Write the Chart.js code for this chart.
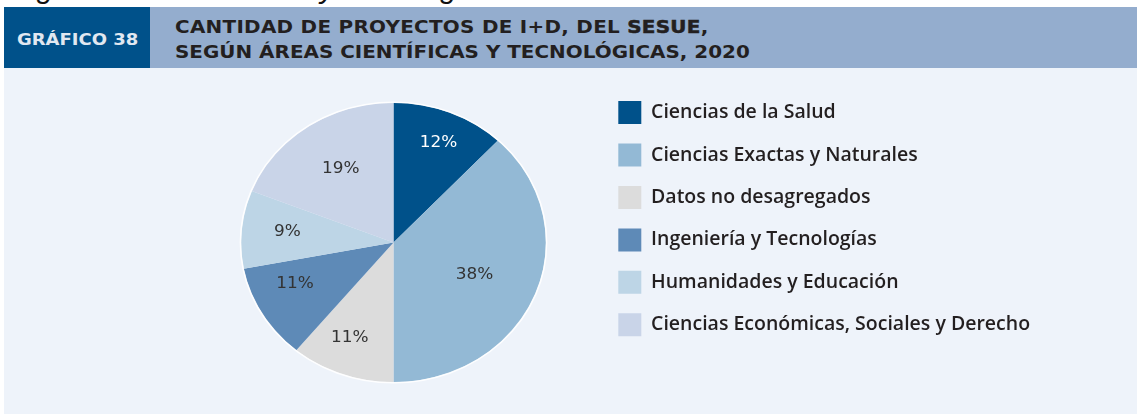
<!DOCTYPE html>
<html lang="es">
<head>
<meta charset="utf-8">
<title>Gráfico 38</title>
<script src="https://cdn.jsdelivr.net/npm/chart.js@4.4.1/dist/chart.umd.min.js"></script>
<style>
  html, body { margin: 0; padding: 0; background: #ffffff; }
  body { width: 1137px; height: 414px; position: relative; overflow: hidden; font-family: 'Open Sans', sans-serif; }
  .cut { position: absolute; left: 0; top: -27px; font: italic 30px/30px 'Liberation Sans', Arial, sans-serif; color: #111; white-space: nowrap; }
  .header { position: absolute; left: 4px; top: 7px; width: 1133px; height: 61px; background: #94adce; }
  .tag { position: absolute; left: 0; top: 0; width: 146px; height: 61px; background: #00518a; }
  .tag span { position: absolute; left: 13px; top: 21.5px; line-height: 22px; color: #e1e8f1; font-family: 'DejaVu Sans', sans-serif; font-weight: 700; font-size: 16.5px; white-space: nowrap; transform: scaleX(1.09); transform-origin: 0 0; }
  .title { position: absolute; left: 171px; top: 6.5px; color: #231f20; font-family: 'DejaVu Sans', sans-serif; font-weight: 700; font-size: 18.3px; line-height: 25px; white-space: nowrap; transform: scaleX(1.09); transform-origin: 0 0; }
  .title .l1 { letter-spacing: 0.25px; }
  .title b { -webkit-text-stroke: 0.5px #231f20; }
  .panel { position: absolute; left: 4px; top: 68px; width: 1133px; height: 346px; background: #eef3fa; }
  canvas { position: absolute; left: 0; top: 0; }
</style>
</head>
<body>
<div class="cut">Según áreas científicas y tecnológicas.</div>
<div class="header">
  <div class="tag"><span>GRÁFICO 38</span></div>
  <div class="title"><span class="l1">CANTIDAD DE PROYECTOS DE I+D, DEL <b>SESUE</b>,</span><br>SEGÚN ÁREAS CIENTÍFICAS Y TECNOLÓGICAS, 2020</div>
</div>
<div class="panel">
  <canvas id="chart" width="1133" height="346"></canvas>
</div>
<script>
// values (percent of projects)
const categories = [
    'Ciencias de la Salud',
    'Ciencias Exactas y Naturales',
    'Datos no desagregados',
    'Ingeniería y Tecnologías',
    'Humanidades y Educación',
    'Ciencias Económicas, Sociales y Derecho'
];
const shares = [12, 38, 11, 11, 9, 19];
const sliceColors = ['#00518a', '#93b9d5', '#dcdcdc', '#5e8ab7', '#bdd5e6', '#c9d4e8'];

// the source pie is a bit wider than tall
const stretchX = 1.091;
const labelRadius = [0.77, 0.58, 0.74, 0.71, 0.70, 0.63];
const labelShift = [1, 2, 3, 6, 1, 1]; // degrees

// legend geometry
const legendFontSize = 19.5;
const legendPad = 19.46;
const legendBox = 23;
const canvasWidth = 1133;
const padLeft = 184.16;
const legendLeft = 594.84;

const measure = document.createElement('canvas').getContext('2d');
measure.font = `normal 600 ${legendFontSize}px 'Open Sans', sans-serif`;
const widest = Math.max(...categories.map(t => measure.measureText(t).width));
const legendNeeded = legendPad + legendBox + legendFontSize / 2 + widest + 10;
const padRight = canvasWidth - legendLeft - legendNeeded;

// stretch the pie horizontally and write the percentages inside
const pieLabels = {
    id: 'pieLabels',
    beforeDatasetsDraw(chart) {
        const arc = chart.getDatasetMeta(0).data[0];
        const ctx = chart.ctx;
        ctx.save();
        ctx.translate(arc.x, 0);
        ctx.scale(stretchX, 1);
        ctx.translate(-arc.x, 0);
    },
    afterDatasetsDraw(chart) {
        const ctx = chart.ctx;
        const meta = chart.getDatasetMeta(0);
        const first = meta.data[0];
        // thin white rim
        ctx.beginPath();
        ctx.arc(first.x, first.y, first.outerRadius + 0.5, 0, Math.PI * 2);
        ctx.strokeStyle = 'rgba(255,255,255,0.9)';
        ctx.lineWidth = 1.5;
        ctx.stroke();
        ctx.restore();

        meta.data.forEach((arc, i) => {
            const p = arc.getProps(['x', 'y', 'startAngle', 'endAngle', 'outerRadius']);
            const a = (p.startAngle + p.endAngle) / 2 + labelShift[i] * Math.PI / 180;
            const r = p.outerRadius * labelRadius[i];
            ctx.save();
            ctx.translate(p.x + Math.cos(a) * r * stretchX, p.y + Math.sin(a) * r);
            ctx.scale(stretchX, 1);
            ctx.font = "400 15.5px 'DejaVu Sans', sans-serif";
            ctx.textAlign = 'center';
            ctx.textBaseline = 'middle';
            ctx.fillStyle = i === 0 ? '#ffffff' : '#333333';
            ctx.fillText(shares[i] + '%', 0, 0);
            ctx.restore();
        });
    }
};

const ctxPie = document.getElementById('chart').getContext('2d');
const pieChart = new Chart(ctxPie, {
    type: 'pie',
    data: {
        labels: categories,
        datasets: [{
            data: shares,
            backgroundColor: sliceColors,
            borderWidth: 0,
            clip: false
        }]
    },
    options: {
        responsive: false,
        devicePixelRatio: 1,
        animation: false,
        events: [],
        radius: 139.8,
        layout: {
            padding: { left: padLeft, right: padRight, top: 13.54, bottom: 10.54 }
        },
        plugins: {
            tooltip: { enabled: false },
            legend: {
                position: 'right',
                align: 'start',
                maxWidth: 700,
                labels: {
                    boxWidth: legendBox,
                    boxHeight: legendBox,
                    padding: legendPad,
                    color: '#231f20',
                    font: { family: "'Open Sans', sans-serif", size: legendFontSize, weight: '600' }
                }
            }
        }
    },
    plugins: [pieLabels]
});
</script>
</body>
</html>
